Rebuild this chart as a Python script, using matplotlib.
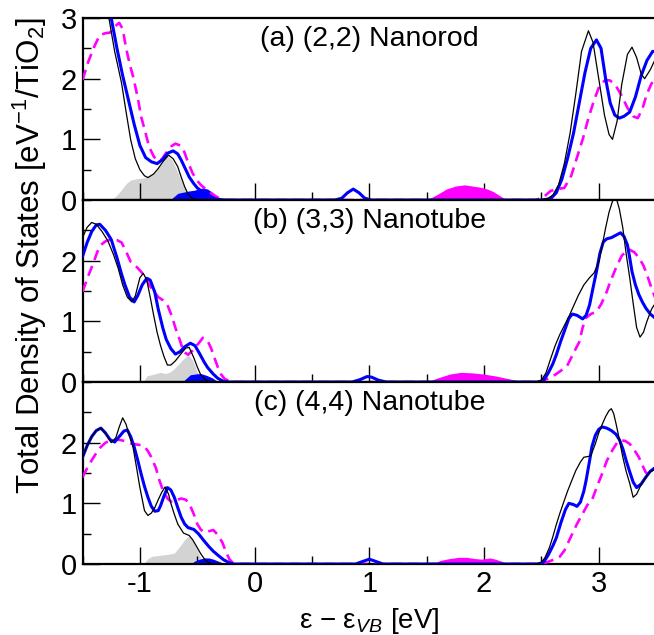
import matplotlib

matplotlib.use("Agg")
import matplotlib.pyplot as plt
from matplotlib.ticker import MultipleLocator

plt.rcParams["font.family"] = ["Liberation Sans", "DejaVu Sans"]
plt.rcParams["mathtext.fontset"] = "custom"
plt.rcParams["mathtext.rm"] = "Liberation Sans"
plt.rcParams["mathtext.it"] = "Liberation Sans:italic"
plt.rcParams["axes.unicode_minus"] = False

# ---- panel (a) (2,2) nanorod ----
a_black_x = [-1.3, -1.27, -1.22, -1.16, -1.12, -1.08, -1.04, -1.0, -0.96, -0.93, -0.88, -0.84, -0.8, -0.75,
             -0.71, -0.67, -0.64, -0.61, -0.58, -0.55, -0.51, 2.45, 2.55, 2.6, 2.65, 2.7, 2.75, 2.8, 2.85, 2.91,
             2.95, 3.0, 3.05, 3.09, 3.12, 3.16, 3.2, 3.25, 3.29, 3.33, 3.37, 3.4, 3.45, 3.5]
a_black_y = [3.3, 3.0, 2.45, 1.93, 1.45, 0.99, 0.68, 0.5, 0.4, 0.37, 0.43, 0.52, 0.63, 0.74,
             0.68, 0.55, 0.38, 0.22, 0.1, 0.04, 0.0, 0.0, 0.02, 0.08, 0.25, 0.6, 1.1, 1.75, 2.45, 2.79,
             2.6, 2.0, 1.4, 1.08, 1.0, 1.3, 1.9, 2.4, 2.52, 2.35, 2.08, 2.0, 2.15, 2.35]
a_blue_x = [-1.28, -1.25, -1.2, -1.15, -1.1, -1.05, -1.0, -0.95, -0.9, -0.85, -0.8, -0.76, -0.71, -0.67,
            -0.64, -0.6, -0.57, -0.53, -0.5, -0.45, -0.41, -0.36, -0.32, -0.25, 0.7, 0.76, 0.81, 0.86, 0.91,
            0.96, 1.02, 2.5, 2.58, 2.63, 2.68, 2.73, 2.78, 2.83, 2.88, 2.93, 2.98, 3.02, 3.06, 3.1, 3.14,
            3.18, 3.22, 3.27, 3.32, 3.37, 3.42, 3.47, 3.5]
a_blue_y = [3.3, 3.0, 2.5, 2.05, 1.65, 1.25, 0.9, 0.7, 0.63, 0.6, 0.67, 0.77, 0.81, 0.76,
            0.66, 0.5, 0.38, 0.27, 0.2, 0.13, 0.08, 0.03, 0.01, 0.0, 0.0, 0.03, 0.12, 0.18, 0.12,
            0.03, 0.0, 0.0, 0.02, 0.12, 0.35, 0.7, 1.1, 1.6, 2.1, 2.5, 2.64, 2.5, 2.0, 1.6, 1.4,
            1.35, 1.38, 1.45, 1.7, 2.05, 2.3, 2.45, 2.45]
a_mag_x = [-1.5, -1.45, -1.4, -1.35, -1.3, -1.26, -1.22, -1.18, -1.15, -1.12, -1.09, -1.06, -1.02, -0.99,
           -0.95, -0.92, -0.88, -0.85, -0.81, -0.77, -0.73, -0.69, -0.65, -0.62, -0.58, -0.54, -0.5, -0.47,
           -0.42, -0.37, -0.32, -0.27, 2.45, 2.52, 2.58, 2.64, 2.7, 2.76, 2.81, 2.86, 2.91, 2.96, 3.01,
           3.06, 3.1, 3.15, 3.2, 3.25, 3.3, 3.34, 3.38, 3.42, 3.46, 3.5]
a_mag_y = [1.98, 2.28, 2.52, 2.72, 2.75, 2.76, 2.86, 2.92, 2.82, 2.5, 2.25, 2.04, 1.7, 1.38,
           1.1, 0.88, 0.72, 0.65, 0.67, 0.78, 0.88, 0.93, 0.9, 0.83, 0.62, 0.44, 0.32, 0.25,
           0.17, 0.1, 0.04, 0.0, 0.0, 0.05, 0.15, 0.18, 0.2, 0.4, 0.7, 1.0, 1.35, 1.65, 1.9,
           1.98, 1.97, 1.88, 1.72, 1.52, 1.38, 1.35, 1.5, 1.75, 1.92, 2.0]
a_gray_x = [-1.25, -1.2, -1.16, -1.12, -1.08, -1.03, -0.98, -0.93, -0.88, -0.84, -0.8, -0.76, -0.72, -0.68,
            -0.64, -0.6, -0.56, -0.53]
a_gray_y = [0.0, 0.08, 0.17, 0.27, 0.33, 0.35, 0.36, 0.38, 0.43, 0.52, 0.63, 0.72, 0.66, 0.5,
            0.32, 0.15, 0.05, 0.0]
a_bfill_x = [-0.74, -0.7, -0.67, -0.62, -0.57, -0.53, -0.49, -0.45, -0.41, -0.37, -0.34, -0.31]
a_bfill_y = [0.0, 0.06, 0.11, 0.13, 0.15, 0.16, 0.18, 0.2, 0.18, 0.13, 0.06, 0.0]
a_mfill_x = [1.5, 1.55, 1.6, 1.67, 1.75, 1.83, 1.9, 1.97, 2.03, 2.08, 2.13, 2.18, 2.22]
a_mfill_y = [0.0, 0.05, 0.1, 0.18, 0.23, 0.25, 0.23, 0.21, 0.18, 0.14, 0.08, 0.02, 0.0]

# ---- panel (b) (3,3) nanotube ----
b_black_x = [-1.5, -1.46, -1.42, -1.38, -1.33, -1.28, -1.23, -1.19, -1.15, -1.11, -1.07, -1.04, -1.0, -0.97,
             -0.94, -0.91, -0.88, -0.85, -0.82, -0.79, -0.76, -0.73, -0.69, -0.64, -0.6, -0.57, -0.53, -0.5,
             -0.47, -0.43, -0.39, 2.45, 2.5, 2.54, 2.58, 2.62, 2.66, 2.7, 2.74, 2.78, 2.82, 2.87, 2.92, 2.96,
             3.0, 3.03, 3.06, 3.09, 3.12, 3.15, 3.18, 3.21, 3.24, 3.27, 3.3, 3.33, 3.36, 3.39, 3.42, 3.46, 3.5]
b_black_y = [2.38, 2.55, 2.63, 2.6, 2.48, 2.33, 2.1, 1.88, 1.6, 1.4, 1.32, 1.42, 1.72, 1.79,
             1.68, 1.4, 1.1, 0.82, 0.6, 0.42, 0.28, 0.28, 0.35, 0.47, 0.56, 0.57, 0.4, 0.25,
             0.12, 0.04, 0.0, 0.0, 0.03, 0.15, 0.38, 0.6, 0.78, 0.93, 1.08, 1.25, 1.42, 1.6, 1.72, 1.8,
             1.98, 2.25, 2.54, 2.8, 2.98, 3.05, 2.85, 2.54, 2.1, 1.72, 1.3, 0.9, 0.74, 0.82, 1.0, 1.2, 1.32]
b_blue_x = [-1.5, -1.46, -1.42, -1.38, -1.35, -1.3, -1.25, -1.2, -1.16, -1.13, -1.09, -1.05, -1.02, -0.98,
            -0.94, -0.91, -0.87, -0.84, -0.8, -0.77, -0.73, -0.69, -0.65, -0.61, -0.56, -0.52, -0.48, -0.44,
            -0.41, -0.36, -0.32, -0.27, -0.22, 0.85, 0.92, 0.98, 1.02, 1.08, 1.15, 2.48, 2.52, 2.56, 2.6,
            2.63, 2.67, 2.71, 2.74, 2.77, 2.81, 2.86, 2.89, 2.92, 2.95, 2.98, 3.01, 3.04, 3.07, 3.11, 3.15,
            3.19, 3.22, 3.25, 3.27, 3.29, 3.32, 3.35, 3.38, 3.41, 3.45, 3.5]
b_blue_y = [2.07, 2.3, 2.48, 2.59, 2.6, 2.5, 2.35, 2.05, 1.78, 1.6, 1.4, 1.32, 1.42, 1.6,
            1.71, 1.68, 1.48, 1.2, 0.89, 0.7, 0.55, 0.46, 0.5, 0.58, 0.64, 0.6, 0.47, 0.33,
            0.24, 0.13, 0.06, 0.01, 0.0, 0.0, 0.04, 0.09, 0.08, 0.03, 0.0, 0.0, 0.03, 0.15, 0.3,
            0.45, 0.68, 0.89, 1.05, 1.12, 1.1, 1.04, 1.1, 1.27, 1.55, 1.82, 2.12, 2.31, 2.36, 2.38, 2.42,
            2.46, 2.4, 2.26, 2.05, 1.82, 1.6, 1.44, 1.32, 1.22, 1.12, 1.04]
b_mag_x = [-1.5, -1.45, -1.41, -1.37, -1.34, -1.3, -1.25, -1.2, -1.16, -1.12, -1.08, -1.03, -0.99, -0.95,
           -0.92, -0.88, -0.84, -0.8, -0.76, -0.72, -0.69, -0.65, -0.62, -0.58, -0.54, -0.5, -0.45, -0.41,
           -0.38, -0.35, -0.32, -0.29, -0.26, -0.2, 2.48, 2.55, 2.62, 2.68, 2.72, 2.76, 2.8, 2.83, 2.86,
           2.89, 2.93, 2.98, 3.02, 3.06, 3.1, 3.15, 3.2, 3.24, 3.27, 3.31, 3.35, 3.39, 3.42, 3.46, 3.5]
b_mag_y = [1.49, 1.75, 1.94, 2.15, 2.26, 2.32, 2.35, 2.34, 2.3, 2.15, 1.98, 1.9, 1.82, 1.72,
           1.6, 1.5, 1.4, 1.35, 1.27, 1.08, 0.89, 0.68, 0.5, 0.45, 0.52, 0.61, 0.73, 0.68,
           0.56, 0.4, 0.24, 0.12, 0.05, 0.0, 0.0, 0.05, 0.12, 0.2, 0.25, 0.4, 0.55, 0.66, 0.9,
           1.06, 1.12, 1.16, 1.28, 1.44, 1.65, 1.88, 2.08, 2.16, 2.18, 2.14, 2.05, 1.92, 1.77, 1.55, 1.35]
b_gray_x = [-0.97, -0.94, -0.9, -0.86, -0.82, -0.78, -0.74, -0.7, -0.66, -0.62, -0.58, -0.54, -0.5, -0.47,
            -0.44, -0.42]
b_gray_y = [0.0, 0.1, 0.12, 0.14, 0.16, 0.14, 0.16, 0.22, 0.3, 0.38, 0.45, 0.36, 0.16, 0.08,
            0.02, 0.0]
b_bfill_x = [-0.63, -0.59, -0.56, -0.52, -0.47, -0.42, -0.37, -0.34, -0.31]
b_bfill_y = [0.0, 0.07, 0.12, 0.13, 0.14, 0.11, 0.07, 0.03, 0.0]
b_mfill_x = [1.5, 1.6, 1.7, 1.8, 1.9, 2.0, 2.1, 2.2, 2.3, 2.45]
b_mfill_y = [0.0, 0.07, 0.13, 0.16, 0.15, 0.13, 0.1, 0.06, 0.02, 0.0]

# ---- panel (c) (4,4) nanotube ----
c_black_x = [-1.5, -1.46, -1.42, -1.38, -1.34, -1.3, -1.25, -1.21, -1.18, -1.15, -1.12, -1.09, -1.06, -1.03,
             -1.0, -0.96, -0.93, -0.9, -0.87, -0.84, -0.81, -0.78, -0.75, -0.73, -0.7, -0.67, -0.62, -0.57,
             -0.54, -0.5, -0.47, -0.44, -0.4, -0.36, 2.45, 2.5, 2.53, 2.57, 2.6, 2.63, 2.66, 2.7, 2.73, 2.77,
             2.8, 2.84, 2.87, 2.9, 2.93, 2.97, 3.0, 3.03, 3.06, 3.09, 3.11, 3.13, 3.15, 3.18, 3.21, 3.24,
             3.27, 3.3, 3.33, 3.36, 3.4, 3.44, 3.5]
c_black_y = [1.76, 1.95, 2.1, 2.2, 2.24, 2.15, 2.0, 2.08, 2.26, 2.41, 2.3, 2.1, 1.93, 1.6,
             1.26, 0.88, 0.8, 0.84, 0.93, 1.06, 1.18, 1.27, 1.15, 1.0, 0.82, 0.66, 0.51, 0.47,
             0.4, 0.27, 0.17, 0.09, 0.02, 0.0, 0.0, 0.03, 0.1, 0.27, 0.45, 0.65, 0.83, 1.05, 1.21, 1.4,
             1.54, 1.68, 1.76, 1.77, 1.78, 1.98, 2.16, 2.3, 2.43, 2.53, 2.56, 2.48, 2.32, 2.05, 1.76, 1.52,
             1.33, 1.1, 1.15, 1.27, 1.4, 1.51, 1.57]
c_blue_x = [-1.5, -1.46, -1.42, -1.38, -1.34, -1.3, -1.26, -1.22, -1.18, -1.14, -1.11, -1.08, -1.05, -1.02,
            -0.99, -0.96, -0.93, -0.9, -0.87, -0.84, -0.82, -0.79, -0.76, -0.73, -0.7, -0.67, -0.64, -0.61,
            -0.58, -0.53, -0.49, -0.44, -0.4, -0.36, -0.31, -0.27, -0.22, -0.18, 0.88, 0.94, 1.0, 1.06, 1.12,
            2.48, 2.52, 2.56, 2.6, 2.63, 2.67, 2.71, 2.74, 2.78, 2.81, 2.84, 2.87, 2.89, 2.92, 2.94, 2.97,
            3.0, 3.03, 3.07, 3.11, 3.15, 3.18, 3.21, 3.24, 3.27, 3.3, 3.33, 3.37, 3.41, 3.45, 3.5]
c_blue_y = [1.76, 1.95, 2.1, 2.2, 2.24, 2.16, 2.05, 2.01, 2.1, 2.19, 2.21, 2.1, 1.93, 1.72,
            1.49, 1.28, 1.1, 0.95, 0.87, 0.88, 0.96, 1.12, 1.26, 1.22, 1.1, 0.93, 0.77, 0.66,
            0.6, 0.57, 0.5, 0.38, 0.29, 0.21, 0.13, 0.07, 0.02, 0.0, 0.0, 0.04, 0.08, 0.04, 0.0,
            0.0, 0.03, 0.15, 0.3, 0.43, 0.68, 0.9, 1.0, 0.98, 0.95, 1.02, 1.2, 1.38, 1.7, 1.93, 2.12,
            2.22, 2.26, 2.24, 2.2, 2.14, 2.05, 1.9, 1.7, 1.52, 1.35, 1.26, 1.32, 1.43, 1.53, 1.6]
c_mag_x = [-1.5, -1.46, -1.42, -1.38, -1.34, -1.3, -1.25, -1.2, -1.16, -1.12, -1.08, -1.03, -0.99, -0.96,
           -0.93, -0.9, -0.86, -0.83, -0.8, -0.76, -0.73, -0.7, -0.67, -0.64, -0.6, -0.57, -0.53, -0.5,
           -0.47, -0.44, -0.4, -0.36, -0.32, -0.28, -0.25, -0.22, -0.19, -0.16, 2.48, 2.55, 2.62, 2.66,
           2.7, 2.74, 2.77, 2.81, 2.86, 2.9, 2.94, 2.97, 3.0, 3.03, 3.07, 3.12, 3.16, 3.19, 3.23, 3.27,
           3.31, 3.35, 3.38, 3.41, 3.45, 3.5]
c_mag_y = [1.43, 1.58, 1.71, 1.83, 1.93, 2.0, 2.04, 2.05, 2.04, 2.02, 1.99, 1.97, 1.96, 1.94,
           1.86, 1.76, 1.58, 1.38, 1.22, 1.08, 1.03, 1.02, 1.06, 1.08, 1.06, 1.0, 0.82, 0.66,
           0.57, 0.52, 0.54, 0.56, 0.48, 0.35, 0.2, 0.08, 0.02, 0.0, 0.0, 0.03, 0.08, 0.12,
           0.22, 0.38, 0.5, 0.66, 0.83, 0.97, 1.05, 1.2, 1.35, 1.49, 1.7, 1.88, 2.0, 2.04, 2.03, 1.98,
           1.88, 1.76, 1.63, 1.51, 1.46, 1.45]
c_gray_x = [-0.97, -0.93, -0.89, -0.84, -0.8, -0.75, -0.7, -0.66, -0.61, -0.57, -0.54, -0.5, -0.47, -0.45,
            -0.43]
c_gray_y = [0.0, 0.09, 0.13, 0.14, 0.15, 0.16, 0.18, 0.27, 0.4, 0.47, 0.38, 0.23, 0.1, 0.03, 0.0]
c_bfill_x = [-0.56, -0.52, -0.48, -0.44, -0.4, -0.36, -0.32, -0.28, -0.25]
c_bfill_y = [0.0, 0.05, 0.08, 0.1, 0.1, 0.08, 0.05, 0.02, 0.0]
c_mfill_x = [1.55, 1.62, 1.7, 1.78, 1.85, 1.92, 1.98, 2.05, 2.1, 2.16, 2.22]
c_mfill_y = [0.0, 0.06, 0.09, 0.11, 0.11, 0.09, 0.08, 0.1, 0.08, 0.04, 0.0]

panel_titles = ["(a) (2,2) Nanorod", "(b) (3,3) Nanotube", "(c) (4,4) Nanotube"]
panel_yticks = [[0, 1, 2, 3], [0, 1, 2], [0, 1, 2]]
x_ticks = [-1, 0, 1, 2, 3]

panels = [
    (a_black_x, a_black_y, a_blue_x, a_blue_y, a_mag_x, a_mag_y,
     a_gray_x, a_gray_y, a_bfill_x, a_bfill_y, a_mfill_x, a_mfill_y),
    (b_black_x, b_black_y, b_blue_x, b_blue_y, b_mag_x, b_mag_y,
     b_gray_x, b_gray_y, b_bfill_x, b_bfill_y, b_mfill_x, b_mfill_y),
    (c_black_x, c_black_y, c_blue_x, c_blue_y, c_mag_x, c_mag_y,
     c_gray_x, c_gray_y, c_bfill_x, c_bfill_y, c_mfill_x, c_mfill_y),
]

fig = plt.figure(figsize=(6.54, 6.35), dpi=100)
left, width, height = 0.1262, 0.877, 0.2866
bottoms = [0.685, 0.685 - height, 0.685 - 2 * height]

axes = []
for i, (kx, ky, bx, by, mx, my, gx, gy, bfx, bfy, mfx, mfy) in enumerate(panels):
    ax = fig.add_axes([left, bottoms[i], width, height])
    axes.append(ax)
    ax.fill_between(gx, gy, color="#d3d3d3", linewidth=0, zorder=1)
    ax.fill_between(bfx, bfy, color="#0000ff", linewidth=0, zorder=2)
    ax.fill_between(mfx, mfy, color="#ff00ff", linewidth=0, zorder=2)
    ax.plot(mx, my, color="#ff00ff", linewidth=1.9, dashes=(4, 2.4), zorder=3)
    ax.plot(bx, by, color="#0000ff", linewidth=2.2, zorder=4)
    ax.plot(kx, ky, color="black", linewidth=0.9, zorder=5)

    ax.set_xlim(-1.5, 3.5)
    ax.set_ylim(0, 3)
    ax.set_xticks(x_ticks)
    ax.xaxis.set_minor_locator(MultipleLocator(0.5))
    ax.set_yticks(panel_yticks[i])
    ax.yaxis.set_minor_locator(MultipleLocator(0.5))
    ax.tick_params(which="both", direction="in", top=False, right=False, labelsize=21, width=1.0)
    ax.tick_params(which="major", length=12, pad=4)
    ax.tick_params(which="minor", length=6)
    for spine in ax.spines.values():
        spine.set_linewidth(1.6)
    if i < 2:
        ax.tick_params(axis="x", labelbottom=False)
    ax.text(1.0, 2.65, panel_titles[i], ha="center", va="center", fontsize=20.5)

axes[2].set_xlabel(r"ε − ε$_{VB}$ [eV]", fontsize=20, labelpad=6)
fig.text(0.046, 0.597, r"Total Density of States [eV$^{-1}$/TiO$_2$]", rotation=90,
         ha="center", va="center", fontsize=22.5)

fig.savefig("out.png", dpi=100, facecolor="white")
